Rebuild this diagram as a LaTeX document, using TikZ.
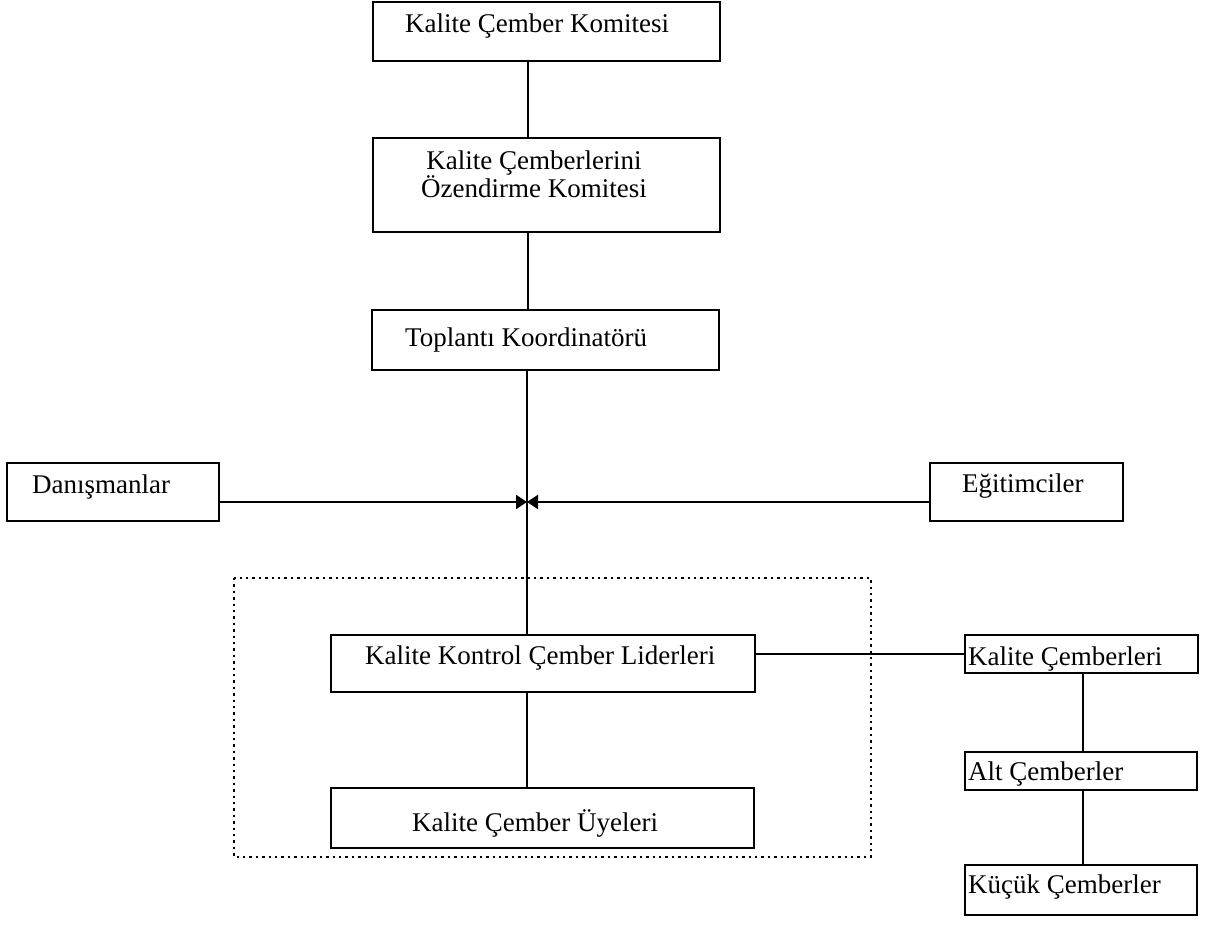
\documentclass[tikz,border=0pt]{standalone}
\usepackage{fontspec}
\setmainfont{Liberation Serif}
\usetikzlibrary{arrows.meta}

\begin{document}
\begin{tikzpicture}[x=1pt,y=-1pt,
  box/.style={draw=black,line width=2.3pt,inner sep=0pt,outer sep=0pt,anchor=north west},
  lbl/.style={inner sep=0pt,anchor=base west,font=\fontsize{27}{28}\selectfont},
  clbl/.style={inner sep=0pt,anchor=base,font=\fontsize{27}{28}\selectfont},
  wire/.style={line width=2pt},
  group/.style={line width=2pt,dash pattern=on 2.4pt off 4pt},
  tip/.style={-{Triangle[length=11pt,width=14pt]}}]

\useasboundingbox (0,0) rectangle (1207,928);

% boxes (top-left corner, size)
\node[box,minimum width=347pt,minimum height=59pt] (kck)  at (373,2)   {};
\node[box,minimum width=347pt,minimum height=94pt] (kcok) at (373,138) {};
\node[box,minimum width=347pt,minimum height=60pt] (tk)   at (372,310) {};
\node[box,minimum width=212pt,minimum height=58pt] (dan)  at (7,463)   {};
\node[box,minimum width=193pt,minimum height=58pt] (egi)  at (930,463) {};
\node[box,minimum width=424pt,minimum height=57pt] (lid)  at (331,635) {};
\node[box,minimum width=423pt,minimum height=60pt] (uye)  at (331,788) {};
\node[box,minimum width=233pt,minimum height=38pt] (kc)   at (965,635) {};
\node[box,minimum width=232pt,minimum height=38pt] (alt)  at (965,752) {};
\node[box,minimum width=232pt,minimum height=50pt] (kuc)  at (965,865) {};

% texts
\node[lbl]  at (405,33)  {Kalite Çember Komitesi};
\node[clbl] at (534,170) {Kalite Çemberlerini};
\node[clbl] at (534,198) {Özendirme Komitesi};
\node[lbl]  at (405,346) {Toplantı Koordinatörü};
\node[lbl]  at (32,493)  {Danışmanlar};
\node[lbl]  at (962,492) {Eğitimciler};
\node[lbl]  at (365,664) {Kalite Kontrol Çember Liderleri};
\node[lbl]  at (412,831) {Kalite Çember Üyeleri};
\node[lbl]  at (968,665) {Kalite Çemberleri};
\node[lbl]  at (968,780) {Alt Çemberler};
\node[lbl]  at (968,893) {Küçük Çemberler};

% dotted grouping frame
\draw[group] (234,578) rectangle (871,857);

% reference points for the connectors
\coordinate (spine) at (528,0);
\coordinate (low)   at (527,0);
\coordinate (hub)   at (527,502);
\coordinate (side)  at (1083,0);

% vertical chain
\draw[wire] (kck.south -| spine) -- (kcok.north -| spine);
\draw[wire] (kcok.south -| spine) -- (tk.north -| spine);
\draw[wire] (tk.south -| low) -- (lid.north -| low);
\draw[wire] (lid.south -| low) -- (uye.north -| low);

% advisers and trainers feeding in
\draw[wire,tip] (dan.east |- hub) -- (hub);
\draw[wire,tip] (egi.west |- hub) -- (hub);

% circles branch
\draw[wire] (lid.east |- kc.west) -- (kc.west);
\draw[wire] (kc.south -| side) -- (alt.north -| side);
\draw[wire] (alt.south -| side) -- (kuc.north -| side);

\end{tikzpicture}
\end{document}
